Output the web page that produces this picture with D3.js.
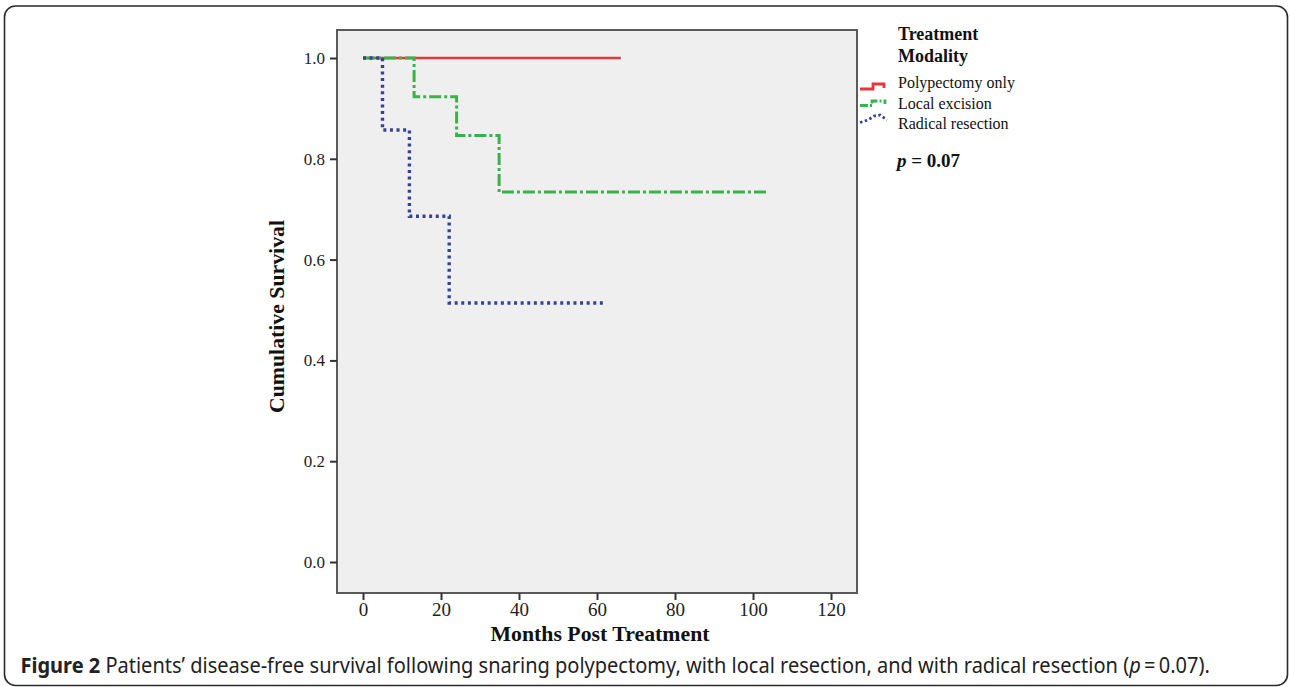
<!DOCTYPE html>
<html>
<head>
<meta charset="utf-8">
<script src="https://cdn.jsdelivr.net/npm/d3@7"></script>
<style>
  html, body { margin: 0; padding: 0; background: #ffffff; }
  svg { display: block; }
</style>
</head>
<body>
<svg id="chart" width="1290" height="687"></svg>
<script>
// ---------------- data ----------------
const seriesNames = ["Polypectomy only", "Local excision", "Radical resection"];
const polyTimes = [0, 66.1];
const polySurv = [1.0, 1.0];
const localTimes = [0, 13.1, 24.0, 34.9, 103.9];
const localSurv = [1.0, 0.923, 0.846, 0.734, 0.734];
const radicalTimes = [0, 5.0, 11.9, 22.1, 61.8];
const radicalSurv = [1.0, 0.857, 0.686, 0.514, 0.514];
const xTicks = [0, 20, 40, 60, 80, 100, 120];
const yTicks = [0.0, 0.2, 0.4, 0.6, 0.8, 1.0];
const legendTitle = ["Treatment", "Modality"];
const xTitle = "Months Post Treatment";
const yTitle = "Cumulative Survival";
const captionBold = "Figure 2";
const captionText = " Patients\u2019 disease-free survival following snaring polypectomy, with local resection, and with radical resection (";
const captionP = "p";
const captionEnd = "\u2009=\u20090.07).";

// ---------------- styles ----------------
const colors = ["#e5363f", "#38b34a", "#34429a"];
const dashes = [null, "12,3,3,3", "3,3.6"];
const widths = [2.6, 3, 3.4];

const svg = d3.select("#chart");
const serif = "'Liberation Serif', 'Times New Roman', serif";

// outer rounded border
svg.append("rect")
  .attr("x", 4.5).attr("y", 6).attr("width", 1283).attr("height", 679.5)
  .attr("rx", 11).attr("fill", "none").attr("stroke", "#2a2a2a").attr("stroke-width", 1.6);

const frame = {left: 337, top: 30, right: 857, bottom: 593};
const x = d3.scaleLinear().domain([0, 120]).range([363, 831]);
const y = d3.scaleLinear().domain([0, 1]).range([562, 58]);

// plot frame
svg.append("rect")
  .attr("x", frame.left).attr("y", frame.top)
  .attr("width", frame.right - frame.left).attr("height", frame.bottom - frame.top)
  .attr("fill", "#efefef").attr("stroke", "#5a5a5a").attr("stroke-width", 2);

// axes
const yAxis = svg.append("g")
  .attr("transform", `translate(${frame.left},0)`)
  .call(d3.axisLeft(y).tickValues(yTicks).tickFormat(d3.format(".1f")).tickSize(7).tickPadding(5).tickSizeOuter(0));
yAxis.select(".domain").remove();
yAxis.selectAll("line").attr("stroke", "#333").attr("stroke-width", 2);
yAxis.selectAll("text").attr("font-family", serif).attr("font-size", 17).attr("fill", "#222");

const xAxis = svg.append("g")
  .attr("transform", `translate(0,${frame.bottom})`)
  .call(d3.axisBottom(x).tickValues(xTicks).tickSize(7).tickSizeOuter(0));
xAxis.select(".domain").remove();
xAxis.selectAll("line").attr("stroke", "#333").attr("stroke-width", 2);
xAxis.selectAll("text").attr("font-family", serif).attr("font-size", 19).attr("fill", "#222")
  .attr("y", 23).attr("dy", null);

// axis titles
svg.append("text")
  .attr("x", (frame.left + frame.right) / 2 + 3).attr("y", 641)
  .attr("text-anchor", "middle").attr("font-family", serif).attr("font-weight", "bold")
  .attr("font-size", 21).attr("fill", "#111")
  .attr("textLength", 219).attr("lengthAdjust", "spacingAndGlyphs")
  .text(xTitle);

svg.append("text")
  .attr("transform", "translate(284,316.5) rotate(-90)")
  .attr("text-anchor", "middle").attr("font-family", serif).attr("font-weight", "bold")
  .attr("font-size", 21).attr("fill", "#111")
  .attr("textLength", 193).attr("lengthAdjust", "spacingAndGlyphs")
  .text(yTitle);

// survival curves
const series = [
  {times: polyTimes, surv: polySurv},
  {times: localTimes, surv: localSurv},
  {times: radicalTimes, surv: radicalSurv}
];
const line = d3.line().x(d => x(d[0])).y(d => y(d[1])).curve(d3.curveStepAfter);
series.forEach((s, i) => {
  const pts = s.times.map((t, j) => [t, s.surv[j]]);
  svg.append("path")
    .attr("d", line(pts))
    .attr("fill", "none")
    .attr("stroke", colors[i])
    .attr("stroke-width", widths[i])
    .attr("stroke-dasharray", dashes[i])
    .attr("stroke-linejoin", "miter");
});

// legend
const lg = svg.append("g");
lg.append("text").attr("x", 898).attr("y", 39.5)
  .attr("font-family", serif).attr("font-weight", "bold").attr("font-size", 18).attr("fill", "#111")
  .text(legendTitle[0]);
lg.append("text").attr("x", 898).attr("y", 62)
  .attr("font-family", serif).attr("font-weight", "bold").attr("font-size", 18).attr("fill", "#111")
  .text(legendTitle[1]);

const rowBase = [87.5, 108.5, 129];
const glyphs = [
  [[860, 89], [873, 89], [873, 84], [884, 84], [884, 88]],
  [[860, 105.5], [872, 105.5], [872, 101], [885, 101], [885, 104]],
  [[860, 122.5], [868, 120], [874, 116], [880, 115], [887, 120]]
];
seriesNames.forEach((name, i) => {
  lg.append("path")
    .attr("d", d3.line()(glyphs[i]))
    .attr("fill", "none").attr("stroke", colors[i])
    .attr("stroke-width", i === 0 ? 2.8 : 2.8)
    .attr("stroke-dasharray", i === 0 ? null : (i === 1 ? "8,2,2,2" : "2.5,2.5"));
  lg.append("text").attr("x", 898).attr("y", rowBase[i])
    .attr("font-family", serif).attr("font-size", 16).attr("fill", "#111")
    .text(name);
});

const pt = lg.append("text").attr("x", 897).attr("y", 167)
  .attr("font-family", serif).attr("font-weight", "bold").attr("font-size", 19).attr("fill", "#111");
pt.append("tspan").attr("font-style", "italic").text("p");
pt.append("tspan").text(" = 0.07");

// caption
const cap = svg.append("text")
  .attr("font-family", "'Noto Sans', 'Open Sans', sans-serif")
  .attr("font-size", 21).attr("fill", "#222");
cap.append("tspan").attr("font-weight", "bold").text(captionBold);
cap.append("tspan").text(captionText);
cap.append("tspan").attr("font-style", "italic").text(captionP);
cap.append("tspan").text(captionEnd);
const natural = cap.node().getComputedTextLength();
const sx = 1190 / natural;
cap.attr("transform", `translate(20.5,673) scale(${sx},1)`);
</script>
</body>
</html>
